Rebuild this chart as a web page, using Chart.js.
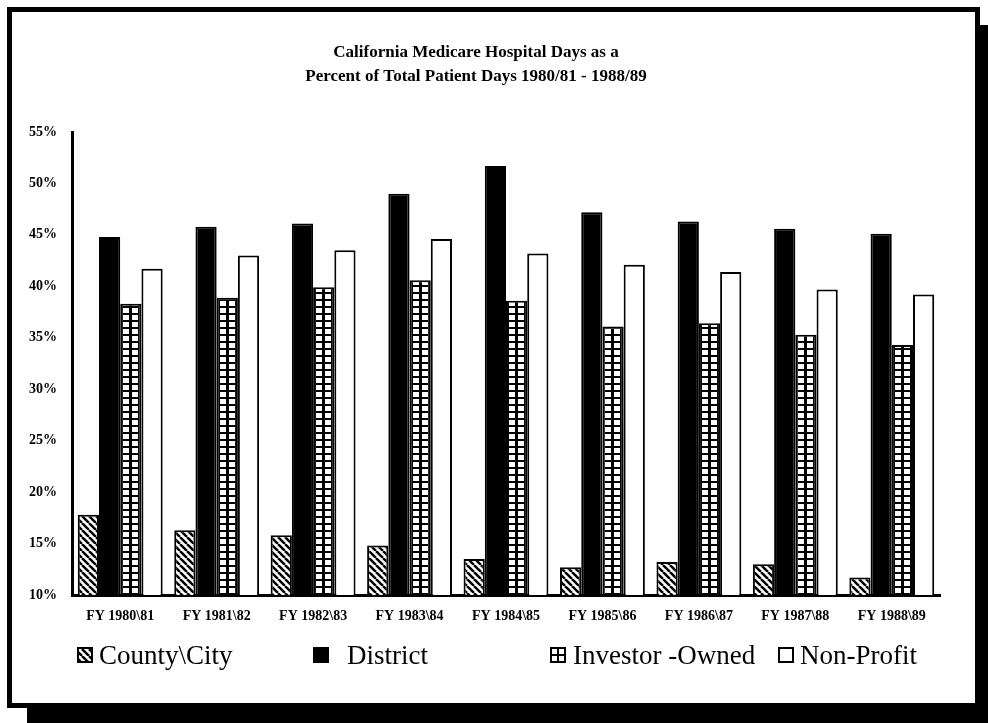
<!DOCTYPE html>
<html>
<head>
<meta charset="utf-8">
<script src="https://cdn.jsdelivr.net/npm/chart.js@4.4.1/dist/chart.umd.min.js"></script>
<style>
  html, body { margin: 0; padding: 0; background: #fff; overflow: hidden; }
  #frame {
    position: absolute; left: 7px; top: 7px;
    width: 963px; height: 691px;
    border: 5px solid #000;
    box-shadow: 20px 18px 0 #000;
    background: #fff;
  }
  canvas { display: block; }
</style>
</head>
<body>
<div id="frame"><canvas id="chart" width="963" height="691"></canvas></div>
<script>
// Fiscal years shown along the x axis
const fiscalYears = [
  'FY 1980\\81', 'FY 1981\\82', 'FY 1982\\83', 'FY 1983\\84', 'FY 1984\\85',
  'FY 1985\\86', 'FY 1986\\87', 'FY 1987\\88', 'FY 1988\\89'
];

// Medicare days as a percent of total patient days, by hospital ownership
const countyCity    = [17.8, 16.3, 15.8, 14.8, 13.5, 12.7, 13.2, 13.0, 11.7];
const district      = [44.8, 45.8, 46.1, 49.0, 51.7, 47.2, 46.3, 45.6, 45.1];
const investorOwned = [38.3, 38.9, 39.9, 40.6, 38.6, 36.1, 36.4, 35.3, 34.3];
const nonProfit     = [41.7, 43.0, 43.5, 44.6, 43.2, 42.1, 41.4, 39.7, 39.2];

const seriesNames = ['County\\City', 'District', 'Investor -Owned', 'Non-Profit'];

// y axis range and step, in percent
const yMin = 10;
const yMax = 55;
const yStep = 5;

const titleLines = [
  'California Medicare Hospital Days as a',
  'Percent of Total Patient Days 1980/81 - 1988/89'
];

// --- fill patterns -------------------------------------------------------
function hatchTile() {
  const s = 7;
  const c = document.createElement('canvas');
  c.width = s; c.height = s;
  const g = c.getContext('2d');
  g.fillStyle = '#fff';
  g.fillRect(0, 0, s, s);
  g.strokeStyle = '#000';
  g.lineWidth = 2.5;
  g.beginPath();
  for (const x0 of [-s, 0, s]) {
    g.moveTo(x0, 0);
    g.lineTo(x0 + s, s);
  }
  g.stroke();
  return c;
}

function gridTile() {
  const c = document.createElement('canvas');
  c.width = 9; c.height = 7;
  const g = c.getContext('2d');
  g.fillStyle = '#000';
  g.fillRect(0, 0, 9, 7);
  g.fillStyle = '#fff';
  g.fillRect(3, 0, 6, 5);
  return c;
}

const hatch = hatchTile();
const grid = gridTile();
const canvas = document.getElementById('chart');
const ctx2d = canvas.getContext('2d');
const hatchPattern = ctx2d.createPattern(hatch, 'repeat');

// grid fill lined up with the left edge of each bar
function investorFill(context) {
  const chart = context.chart;
  const xs = chart.scales && chart.scales.x;
  const pat = chart.ctx.createPattern(grid, 'repeat');
  if (xs && context.type === 'data' && chart.chartArea) {
    const left = Math.round(xs.getPixelForValue(context.dataIndex));
    pat.setTransform(new DOMMatrix([1, 0, 0, 1, left, Math.round(chart.chartArea.bottom)]));
  }
  return pat;
}

// --- legend drawn along the bottom of the canvas --------------------------
const legendSlots = [
  { box: 65,  text: 87 },
  { box: 301, text: 335 },
  { box: 538, text: 561 },
  { box: 766, text: 788 }
];
const legendBoxTop = 635;
const legendBoxSize = 16;
const legendBaseline = 652;

const patternLegend = {
  id: 'patternLegend',
  afterDraw(chart) {
    const ctx = chart.ctx;
    ctx.save();
    chart.data.datasets.forEach((ds, i) => {
      const slot = legendSlots[i];
      const x = slot.box, y = legendBoxTop, s = legendBoxSize;
      if (i === 0) {
        ctx.fillStyle = hatchPattern;
        ctx.fillRect(x, y, s, s);
      } else if (i === 1) {
        ctx.fillStyle = '#000';
        ctx.fillRect(x, y, s, s);
      } else {
        ctx.fillStyle = '#fff';
        ctx.fillRect(x, y, s, s);
      }
      ctx.strokeStyle = '#000';
      ctx.lineWidth = 2;
      ctx.strokeRect(x + 1, y + 1, s - 2, s - 2);
      if (i === 2) {
        ctx.beginPath();
        ctx.moveTo(x + s / 2, y);
        ctx.lineTo(x + s / 2, y + s);
        ctx.moveTo(x, y + s / 2);
        ctx.lineTo(x + s, y + s / 2);
        ctx.stroke();
      }
      ctx.fillStyle = '#000';
      ctx.font = '27px "Liberation Serif", serif';
      ctx.textAlign = 'left';
      ctx.textBaseline = 'alphabetic';
      ctx.fillText(ds.label, slot.text, legendBaseline);
    });
    ctx.restore();
  }
};

const tickFont = { family: '"Liberation Serif", serif', weight: 'bold', size: 14 };

new Chart(canvas, {
  type: 'bar',
  data: {
    labels: fiscalYears,
    datasets: [
      { label: seriesNames[0], data: countyCity,    backgroundColor: hatchPattern, borderColor: '#000', borderWidth: 2 },
      { label: seriesNames[1], data: district,      backgroundColor: '#000',       borderColor: '#000', borderWidth: 2 },
      { label: seriesNames[2], data: investorOwned, backgroundColor: investorFill, borderColor: '#000', borderWidth: 2 },
      { label: seriesNames[3], data: nonProfit,     backgroundColor: '#fff',       borderColor: '#000', borderWidth: 2 }
    ]
  },
  options: {
    responsive: false,
    animation: false,
    devicePixelRatio: 1,
    layout: { padding: { top: 0, left: 0, right: 35, bottom: 0 } },
    datasets: {
      bar: { categoryPercentage: 0.88, barPercentage: 1.0, borderSkipped: 'bottom' }
    },
    plugins: {
      legend: { display: false },
      tooltip: { enabled: false },
      title: {
        display: true,
        text: titleLines,
        color: '#000',
        font: { family: '"Liberation Serif", serif', weight: 'bold', size: 17, lineHeight: '24px' },
        padding: { top: 29, bottom: 43 }
      }
    },
    scales: {
      x: {
        grid: { display: false, drawTicks: false },
        border: { display: true, color: '#000', width: 3 },
        ticks: { color: '#000', font: tickFont, padding: 13, maxRotation: 0, autoSkip: false },
        afterFit(scale) { scale.height = 108; }
      },
      y: {
        min: yMin,
        max: yMax,
        grid: { display: false, drawTicks: false },
        border: { display: true, color: '#000', width: 3 },
        ticks: {
          stepSize: yStep,
          color: '#000',
          font: tickFont,
          padding: 15,
          callback: v => v + '%'
        },
        afterFit(scale) { scale.width = 60; }
      }
    }
  },
  plugins: [patternLegend]
});
</script>
</body>
</html>
